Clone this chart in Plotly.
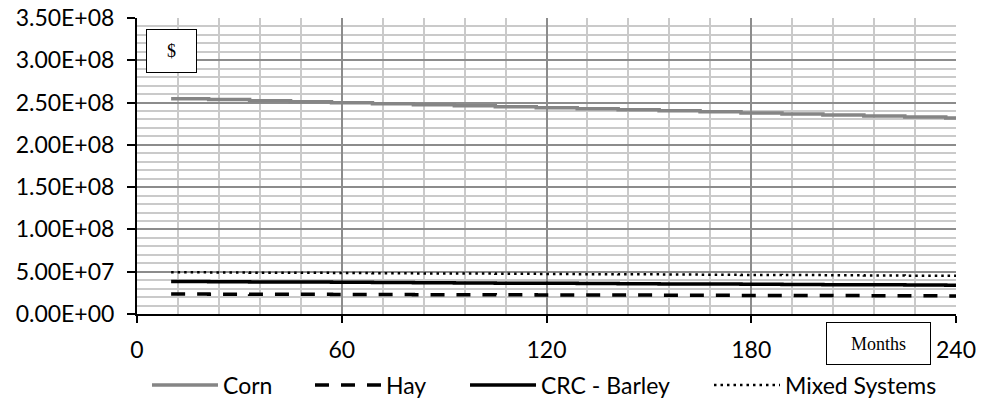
import plotly.graph_objects as go

# Data
months = [10, 21, 33, 45, 57, 69, 81, 93, 105, 117, 129, 141, 153, 165, 177, 189, 201, 213, 225, 237, 240]
corn = [2.545e8, 2.535e8, 2.522e8, 2.510e8, 2.498e8, 2.486e8, 2.474e8, 2.462e8, 2.450e8, 2.438e8, 2.426e8,
        2.414e8, 2.402e8, 2.390e8, 2.378e8, 2.366e8, 2.354e8, 2.342e8, 2.330e8, 2.318e8, 2.312e8]
hay = [2.36e7, 2.35e7, 2.34e7, 2.33e7, 2.31e7, 2.30e7, 2.29e7, 2.28e7, 2.27e7, 2.26e7, 2.25e7,
       2.24e7, 2.22e7, 2.21e7, 2.20e7, 2.19e7, 2.18e7, 2.17e7, 2.16e7, 2.14e7, 2.13e7]
crc_barley = [3.83e7, 3.81e7, 3.79e7, 3.77e7, 3.74e7, 3.72e7, 3.70e7, 3.68e7, 3.65e7, 3.63e7, 3.61e7,
              3.59e7, 3.56e7, 3.54e7, 3.52e7, 3.50e7, 3.47e7, 3.45e7, 3.43e7, 3.41e7, 3.39e7]
mixed = [4.93e7, 4.91e7, 4.89e7, 4.87e7, 4.84e7, 4.82e7, 4.80e7, 4.78e7, 4.75e7, 4.73e7, 4.71e7,
         4.69e7, 4.66e7, 4.64e7, 4.62e7, 4.60e7, 4.57e7, 4.55e7, 4.53e7, 4.51e7, 4.49e7]

y_tickvals = [0, 5e7, 1e8, 1.5e8, 2e8, 2.5e8, 3e8, 3.5e8]
y_ticktext = ["0.00E+00", "5.00E+07", "1.00E+08", "1.50E+08", "2.00E+08", "2.50E+08", "3.00E+08", "3.50E+08"]
x_tickvals = [0, 60, 120, 180, 240]

FONT = "Lato"

fig = go.Figure()
fig.add_trace(go.Scatter(x=months, y=corn, name="Corn", mode="lines", line_shape="hv", legend="legend",
                         line=dict(color="#858585", width=3.5)))
fig.add_trace(go.Scatter(x=months, y=hay, name="Hay", mode="lines", line_shape="hv", legend="legend2",
                         line=dict(color="black", width=3.5, dash="14px,12px")))
fig.add_trace(go.Scatter(x=months, y=crc_barley, name="CRC - Barley", mode="lines", line_shape="hv",
                         legend="legend3", line=dict(color="black", width=3.5)))
fig.add_trace(go.Scatter(x=months, y=mixed, name="Mixed Systems", mode="lines", line_shape="hv",
                         legend="legend4", line=dict(color="black", width=2.5, dash="2.5px,4px")))


def leg(xpos):
    return dict(orientation="h", x=xpos, xanchor="left", y=-0.24, yanchor="middle",
                font=dict(size=23), bgcolor="rgba(0,0,0,0)", itemwidth=66)


fig.update_layout(
    width=982, height=404,
    margin=dict(l=137, r=26, t=18, b=90, autoexpand=False),
    paper_bgcolor="white", plot_bgcolor="white",
    font=dict(family=FONT, size=23, color="black"),
    showlegend=True,
    legend=leg(0.0122),
    legend2=leg(0.2112),
    legend3=leg(0.4005),
    legend4=leg(0.6984),
    xaxis=dict(range=[0, 240], tickvals=x_tickvals, showgrid=True, gridcolor="#8c8c8c", gridwidth=2,
               minor=dict(dtick=12, tick0=0, showgrid=True, gridcolor="#cacaca", gridwidth=2),
               showline=True, linecolor="black", linewidth=2, ticks="outside", ticklen=7,
               tickwidth=2, tickcolor="black", zeroline=False, ticklabelstandoff=7, automargin=False),
    yaxis=dict(range=[0, 3.5e8], tickvals=y_tickvals, ticktext=y_ticktext, showgrid=True,
               gridcolor="#8c8c8c", gridwidth=2,
               minor=dict(dtick=1e7, tick0=0, showgrid=True, gridcolor="#cacaca", gridwidth=2),
               showline=True, linecolor="black", linewidth=2, ticks="outside", ticklen=8,
               tickwidth=2, tickcolor="black", zeroline=False, ticklabelstandoff=8, automargin=False),
    annotations=[
        dict(text="$", xref="paper", yref="paper", x=0.0427, y=0.887, xanchor="center", yanchor="middle",
             showarrow=False, font=dict(family="Liberation Serif", size=18, color="black"),
             bordercolor="black", borderwidth=1, bgcolor="white", width=47, height=40),
        dict(text="Months", xref="paper", yref="paper", x=0.905, y=-0.101, xanchor="center", yanchor="middle",
             showarrow=False, font=dict(family="Liberation Serif", size=18, color="black"),
             bordercolor="black", borderwidth=1, bgcolor="white", width=101, height=39),
    ],
)

fig.write_html("out.html", config={"displayModeBar": False},
               post_script="document.body.style.margin='0';")
